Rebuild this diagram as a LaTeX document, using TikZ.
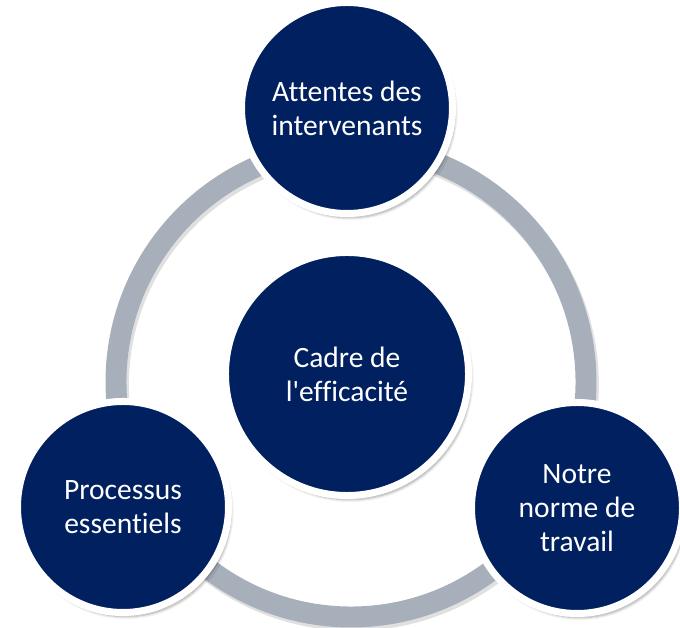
\documentclass[tikz,border=0pt]{standalone}
\usepackage{fontspec}
\setmainfont{Carlito}[Ligatures=NoCommon]
\usetikzlibrary{shadows.blur}

\tikzset{
  bubble/.style={circle,fill=navy,draw=white,line width=5pt,inner sep=0pt,
    text=white,align=center,font=\fontsize{21}{24}\selectfont,
    blur shadow={shadow xshift=2pt,shadow yshift=-3pt,shadow blur steps=6,shadow opacity=35}},
  small/.style={bubble,minimum size=5.275cm},
  big/.style={bubble,minimum size=6.075cm}
}

\begin{document}
\begin{tikzpicture}[x=0.025cm,y=-0.025cm]
					\definecolor{navy}{HTML}{00205F}
					\definecolor{ringgray}{HTML}{A7AFBA}
					\useasboundingbox (0,0) rectangle (680,628);
					
					% ring with a faint shadow
					\draw[black,opacity=0.12,line width=15.5pt] (353,385) circle (235);
					\draw[ringgray,line width=14.9pt] (351,382) circle (235);
					
					\node[small] (stake) at (347,108) {Attentes des\\intervenants};
					\node[big] (frame) at (347,374) {Cadre de\\l\textquotesingle efficacité};
					\node[small] (proc) at (123,507) {Processus\\essentiels};
					\node[small] (norm) at (577,508) {Notre\\norme de\\travail};
				\end{tikzpicture}
\end{document}
